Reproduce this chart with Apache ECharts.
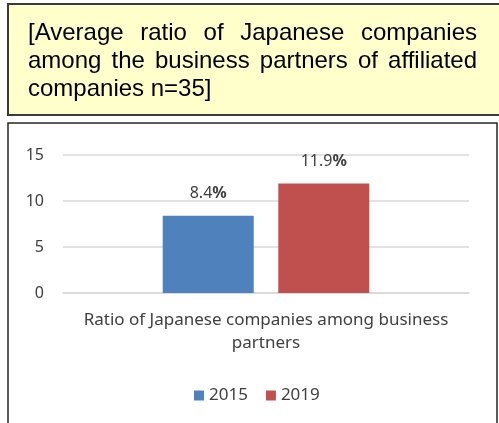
<!DOCTYPE html>
<html>
<head>
<meta charset="utf-8">
<script src="https://cdn.jsdelivr.net/npm/echarts@6/dist/echarts.min.js"></script>
<style>
  html, body { margin: 0; padding: 0; background: #ffffff; }
  #chart { width: 499px; height: 423px; }
</style>
</head>
<body>
<div id="chart"></div>
<script>
// Chart data
const categories = ['Ratio of Japanese companies among business\npartners'];
const seriesNames = ['2015', '2019'];
const values2015 = [8.4];
const values2019 = [11.9];
const yTicks = { min: 0, max: 15, interval: 5 };
const titleLines = [
  '[Average ratio of Japanese companies',
  'among the business partners of affiliated',
  'companies n=35]'
];

const TITLE_FONT = '24px "Liberation Sans", Arial, sans-serif';
const CHART_FONT = '"Noto Sans", sans-serif';

// Lay out one title line word by word, optionally stretched to a full width
function titleLine(text, x, y, width, justify) {
  const ctx = document.createElement('canvas').getContext('2d');
  ctx.font = TITLE_FONT;
  const words = text.split(' ');
  const widths = words.map(w => ctx.measureText(w).width);
  const total = widths.reduce((a, b) => a + b, 0);
  const gap = justify && words.length > 1
    ? (width - total) / (words.length - 1)
    : ctx.measureText(' ').width;
  const items = [];
  let cx = x;
  words.forEach((w, i) => {
    items.push({
      type: 'text', x: cx, y: y, z: 10,
      style: { text: w, font: TITLE_FONT, fill: '#000000', textVerticalAlign: 'middle' }
    });
    cx += widths[i] + gap;
  });
  return items;
}

const graphics = [
  { type: 'rect', z: -10, shape: { x: 8, y: 4, width: 500, height: 111 },
    style: { fill: '#FFFFCC', stroke: '#3a3a3a', lineWidth: 2 } },
  { type: 'rect', z: -10, shape: { x: 8, y: 123, width: 489, height: 310 },
    style: { fill: '#ffffff', stroke: '#262626', lineWidth: 1.5 } }
];
const lineY = [33, 61, 89];
titleLines.forEach((t, i) => {
  graphics.push(...titleLine(t, 28, lineY[i], 449, i < titleLines.length - 1));
});

const labelRich = {
  n: { fontFamily: CHART_FONT, fontSize: 16, color: '#404040' },
  p: { fontFamily: CHART_FONT, fontSize: 16, fontWeight: 'bold', color: '#404040' }
};
const pctLabel = {
  show: true, position: 'top', distance: 14,
  formatter: p => '{n|' + p.value.toFixed(1) + '}{p|%}',
  rich: labelRich
};

const chart = echarts.init(document.getElementById('chart'), null, { renderer: 'canvas' });
chart.setOption({
  animation: false,
  backgroundColor: '#ffffff',
  graphic: graphics,
  grid: { left: 63, right: 30, top: 155, bottom: 130 },
  legend: {
    data: seriesNames, top: 382, left: 189,
    itemWidth: 10, itemHeight: 10, itemGap: 18,
    icon: 'rect',
    textStyle: { fontFamily: CHART_FONT, fontSize: 17, color: '#404040' }
  },
  xAxis: {
    type: 'category', data: categories,
    axisLine: { lineStyle: { color: '#D9D9D9', width: 1.5 } },
    axisTick: { show: false },
    axisLabel: { margin: 16, fontFamily: CHART_FONT, fontSize: 17, lineHeight: 23, color: '#404040' }
  },
  yAxis: {
    type: 'value', min: yTicks.min, max: yTicks.max, interval: yTicks.interval,
    axisLine: { show: false }, axisTick: { show: false },
    splitLine: { lineStyle: { color: '#D9D9D9', width: 1.5 } },
    axisLabel: { margin: 19, fontFamily: CHART_FONT, fontSize: 16, color: '#404040' }
  },
  series: [
    { name: seriesNames[0], type: 'bar', data: values2015, barWidth: 91, barGap: '27%',
      itemStyle: { color: '#4F81BD' }, label: pctLabel },
    { name: seriesNames[1], type: 'bar', data: values2019, barWidth: 91, barGap: '27%',
      itemStyle: { color: '#C0504D' }, label: pctLabel }
  ]
});
</script>
</body>
</html>
